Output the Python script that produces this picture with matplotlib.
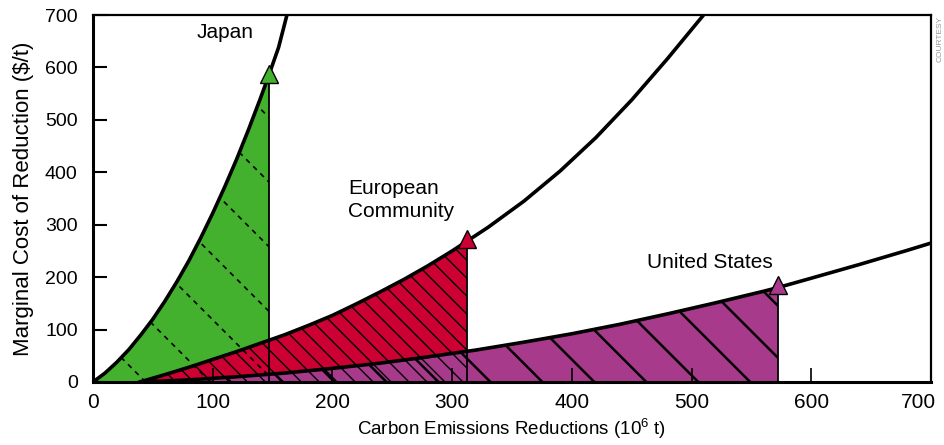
import numpy as np
import matplotlib.pyplot as plt
from matplotlib.patches import Polygon
from matplotlib.transforms import ScaledTranslation

plt.rcParams['font.family'] = ['Liberation Sans', 'DejaVu Sans']
plt.rcParams['mathtext.fontset'] = 'custom'
plt.rcParams['mathtext.rm'] = 'Liberation Sans'

# curves (x: 10^6 t, y: $/t)
japan_x = [0, 10, 20, 30, 40, 50, 60, 70, 80, 90, 100, 110, 120, 130, 140, 147, 155, 162]
japan_y = [0, 17, 38, 62, 90, 120, 154, 191, 231, 275, 322, 372, 425, 482, 542, 586, 638, 700]

ec_x = [39, 60, 80, 100, 120, 140, 160, 180, 200, 220, 240, 260, 280, 300, 312,
        330, 360, 390, 420, 450, 480, 510]
ec_y = [0, 14, 28, 43, 58, 74, 90, 108, 127, 149, 172, 196, 222, 250, 268,
        295, 345, 402, 466, 538, 617, 700]

us_x = [40, 80, 120, 160, 200, 240, 280, 320, 360, 400, 440, 480, 520, 560, 572,
        600, 640, 680, 700]
us_y = [0, 4, 10, 17, 26, 36, 48, 61, 76, 92, 110, 130, 151, 173, 180,
        198, 224, 251, 265]

# end of each shaded area (marked with a triangle)
names = ['Japan', 'European\nCommunity', 'United States']
end_x = [147, 312, 572]
end_y = [582, 268, 180]
colors = ['#43b02e', '#cc0033', '#a83a8c']

x_ticks = [0, 100, 200, 300, 400, 500, 600, 700]
y_ticks = [0, 100, 200, 300, 400, 500, 600, 700]

fig = plt.figure(figsize=(9.45, 4.45), dpi=100)
ax = fig.add_axes([93 / 945, 63 / 445, 838 / 945, 367 / 445])
ax.set_xlim(0, 700)
ax.set_ylim(0, 700)

# slope of 45 degree hatch lines in data units
ppx = 838 / 700
ppy = 367 / 700
k = ppx / ppy

curves = [(japan_x, japan_y), (ec_x, ec_y), (us_x, us_y)]
hatch = [
    dict(start=206, step=54, lw=1.2, ls=(0, (3, 3))),
    dict(start=279, step=15, lw=1.0, ls='-'),
    dict(start=332, step=43.4, lw=1.8, ls='-'),
]

polys = []
for i, (cx, cy) in enumerate(curves):
    cx = np.array(cx)
    cy = np.array(cy)
    m = cx <= end_x[i]
    verts = list(zip(cx[m], cy[m])) + [(end_x[i], 0), (cx[0], 0)]
    p = Polygon(verts, closed=True, facecolor=colors[i], edgecolor='none', zorder=1 + i * 0.1)
    ax.add_patch(p)
    polys.append(p)

# hatch lines, each clipped to its own area
for i, p in enumerate(polys):
    h = hatch[i]
    for x0 in np.arange(h['start'] - 20 * h['step'], 700, h['step']):
        if x0 < 0:
            continue
        ln, = ax.plot([x0, x0 - 400], [0, 400 * k], color='black', lw=h['lw'],
                      ls=h['ls'], zorder=2)
        ln.set_clip_path(p)

# boundary lines and triangles
off = ScaledTranslation(0, 2 / 72, fig.dpi_scale_trans)
for i in range(3):
    ax.vlines(end_x[i], 0, end_y[i], color='black', lw=1.3, zorder=3)
    ax.plot(end_x[i], end_y[i], marker='^', ms=13, mfc=colors[i], mec='black',
            mew=1.0, zorder=6, transform=ax.transData + off, clip_on=False)

for cx, cy in curves:
    ax.plot(cx, cy, color='black', lw=2.6, zorder=4, solid_joinstyle='round')

ax.text(110, 666, names[0], fontsize=15, ha='center', va='center')
ax.text(213, 347, names[1], fontsize=15, ha='left', va='center', linespacing=1.3)
ax.text(463, 228, names[2], fontsize=15, ha='left', va='center')

ax.set_xticks(x_ticks)
ax.set_yticks(y_ticks)
ax.tick_params(axis='y', direction='in', length=10, width=1.5, labelsize=14, pad=11)
ax.tick_params(axis='x', direction='in', length=10, width=1.2, labelsize=15, pad=8)
# last x label sits a bit left, as in the original
last = ax.get_xticklabels()[-1]
last.set_transform(last.get_transform() + ScaledTranslation(-9 / 72, 0, fig.dpi_scale_trans))

for s in ['left', 'bottom']:
    ax.spines[s].set_linewidth(2.2)
for s in ['top', 'right']:
    ax.spines[s].set_linewidth(1.6)
for s in ax.spines.values():
    s.set_zorder(7)

ax.set_ylabel(r'Marginal Cost of Reduction (\$/t)', fontsize=16, labelpad=8)
ax.set_xlabel(r'Carbon Emissions Reductions (10$^{\rm 6}$ t)', fontsize=13.5, labelpad=3)

fig.text(0.999, 0.965, 'COURTESY', rotation=90, fontsize=6, color='#999999',
         ha='right', va='top')

plt.savefig('out.png', dpi=100)
